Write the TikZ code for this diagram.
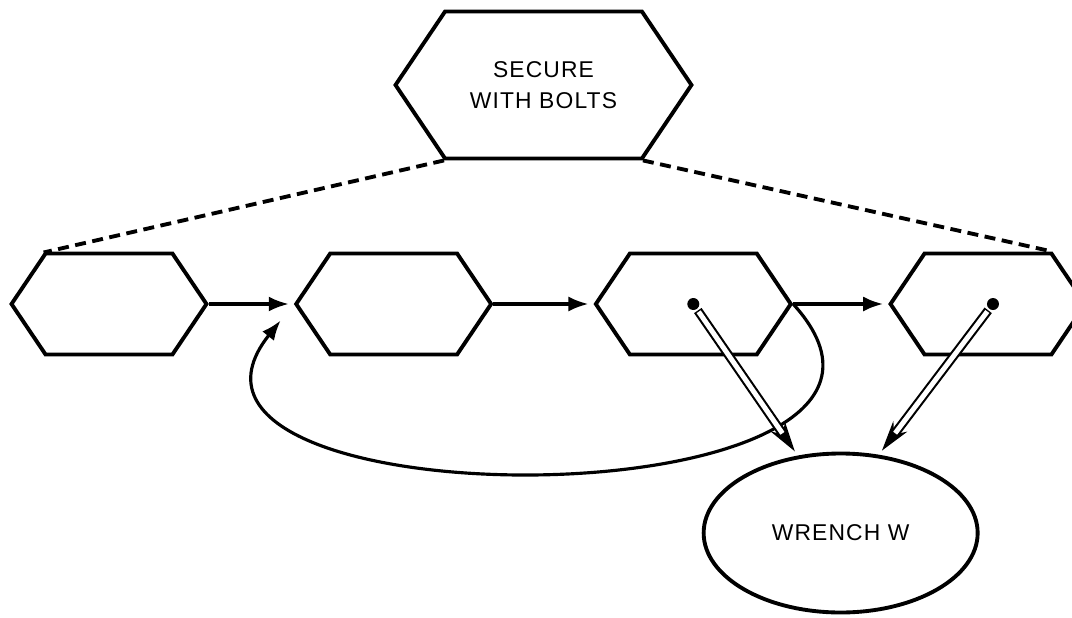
\documentclass[tikz,border=0pt]{standalone}
\usepackage{fontspec}
\setmainfont{Liberation Sans}
\usetikzlibrary{arrows.meta,positioning,calc,shapes.symbols,shapes.geometric}

\begin{document}
\begin{tikzpicture}[
    font=\fontsize{13}{17.6}\selectfont\addfontfeatures{LetterSpace=5}, % 字母略為拉開
    line width=2.2pt, % 外框線條
    >={Latex[length=4mm, width=3mm]}, % 設定箭頭樣式
    % --- 樣式定義 ---
    % 六角形步驟方塊
    task hex/.style={
        draw=black,
        fill=white,
        signal,
        signal to=east and west,
        signal pointer angle=112,
        minimum width=3.9cm,
        minimum height=2.02cm,
        inner sep=0pt
    },
    % 上方目標方塊
    goal hex/.style={
        task hex,
        minimum width=5.92cm,
        minimum height=2.94cm,
        align=center
    },
    % 工具橢圓
    tool oval/.style={
        draw=black,
        ellipse,
        minimum width=5.48cm,
        minimum height=3.18cm
    },
    % 虛線分解線
    link dash/.style={dash pattern=on 2.2mm off 1.3mm, line width=2.2pt},
    % 流程箭頭
    flow/.style={->, line width=1.8pt},
    % 工具使用點
    pivot/.style={circle, fill=black, inner sep=0pt, minimum size=2.4mm},
    % 空心雙線箭頭(外層黑、內層白)
    tube/.style={line width=5.2pt, shorten >=1mm, -{Stealth[length=6mm, width=3.4mm]}},
    tube core/.style={white, line width=2.8pt, shorten <=0.3mm, shorten >=5.4mm}
]

    \useasboundingbox (0,0) rectangle (21.44,12.34);

    % ====== 下方:步驟序列 ======
    \node[task hex] (s1) at (2.18,6.26) {};
    \node[task hex, right=1.7cm of s1] (s2) {};
    \node[task hex, right=2.0cm of s2] (s3) {};
    \node[task hex, right=1.9cm of s3] (s4) {};

    % ====== 上方:目標 ======
    \node[goal hex] (goal) at ($(s2)!0.5!(s3)+(0,4.38)$) {SECURE\\WITH BOLTS};

    % ====== 工具 ======
    \node[tool oval] (wrench) at ($(s3)!0.5!(s4)+(0,-4.58)$) {WRENCH W};

    % 工具使用點
    \node[pivot] (p3) at (s3.center) {};
    \node[pivot, xshift=1mm] (p4) at (s4.center) {};

    % ====== 虛線:目標分解 ======
    \draw[link dash] (goal.south west) -- (s1.north west);
    \draw[link dash] (goal.south east) -- (s4.north east);

    % ====== 箭頭連接 ======
    \draw[flow, shorten >=1mm] (s1.east) -- (s2.west);
    \draw[flow, shorten >=1mm] (s2.east) -- (s3.west);
    \draw[flow, shorten >=1mm] (s3.east) -- (s4.west);

    % 回到第二步的迴圈
    \draw[flow, shorten >=4.2mm] (s3.east) .. controls +(4.0,-4.4) and +(-3.6,-4.5) .. (s2.west);

    % 工具指向
    \draw[tube] (p3) -- (wrench.119);
    \draw[tube core] (p3) -- (wrench.119);
    \draw[tube] (p4) -- (wrench.64);
    \draw[tube core] (p4) -- (wrench.64);

\end{tikzpicture}
\end{document}
